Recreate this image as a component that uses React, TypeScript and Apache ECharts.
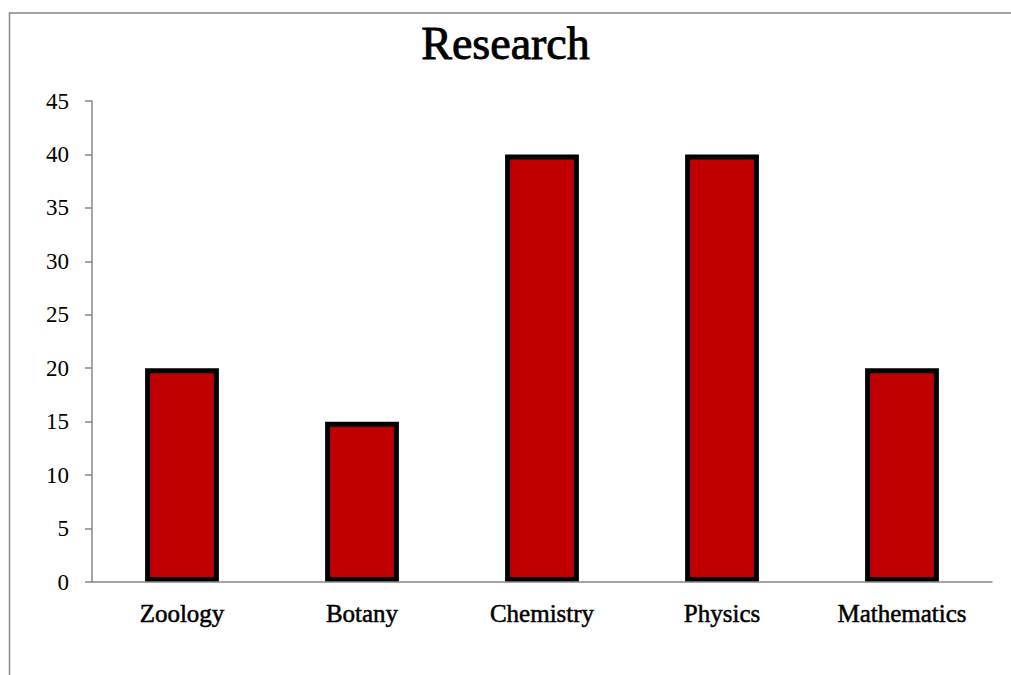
import React, { useEffect, useRef } from "react";
import * as echarts from "echarts";

const titleText = "Research";
const categories = ["Zoology", "Botany", "Chemistry", "Physics", "Mathematics"];
const values = [20, 15, 40, 40, 20];
const yMin = 0;
const yMax = 45;
const yInterval = 5;

const FONT = "'Liberation Serif', 'DejaVu Serif', serif";

export default function App() {
  const ref = useRef<HTMLDivElement>(null);
  useEffect(() => {
    if (!ref.current) return;
    const chart = echarts.init(ref.current, undefined, { renderer: "svg" });
    chart.setOption({
      animation: false,
      backgroundColor: "#ffffff",
      title: {
        text: titleText,
        left: "center",
        top: 15,
        textStyle: {
          fontFamily: FONT,
          fontSize: 46,
          fontWeight: "normal",
          color: "#000",
          textBorderColor: "#000",
          textBorderWidth: 0.9,
        },
      },
      graphic: [
        {
          type: "rect",
          shape: { x: 9.5, y: 13, width: 1100, height: 1000 },
          style: { fill: "none", stroke: "#878787", lineWidth: 1.5 },
          z: 0,
        },
      ],
      grid: { left: 92, right: 19, top: 101, bottom: 93, containLabel: false },
      xAxis: {
        type: "category",
        data: categories,
        z: 5,
        axisLine: { lineStyle: { color: "#878787", width: 1.5 } },
        axisTick: { length: 7, lineStyle: { color: "#878787", width: 1.5 } },
        axisLabel: {
          fontFamily: FONT,
          fontSize: 25,
          color: "#000",
          margin: 19,
          textBorderColor: "#000",
          textBorderWidth: 0.5,
        },
      },
      yAxis: {
        type: "value",
        min: yMin,
        max: yMax,
        interval: yInterval,
        splitLine: { show: false },
        axisLine: { show: true, lineStyle: { color: "#878787", width: 1.5 } },
        axisTick: { show: true, length: 7, lineStyle: { color: "#878787", width: 1.5 } },
        axisLabel: { fontFamily: FONT, fontSize: 23, color: "#000", margin: 23 },
      },
      series: [
        {
          type: "bar",
          data: values,
          barWidth: "41%",
          itemStyle: { color: "#C00000", borderColor: "#000", borderWidth: 5 },
        },
      ],
    });
    return () => chart.dispose();
  }, []);
  return (
    <div
      ref={ref}
      style={{ position: "fixed", left: 0, top: 0, width: 1011, height: 675 }}
    />
  );
}
